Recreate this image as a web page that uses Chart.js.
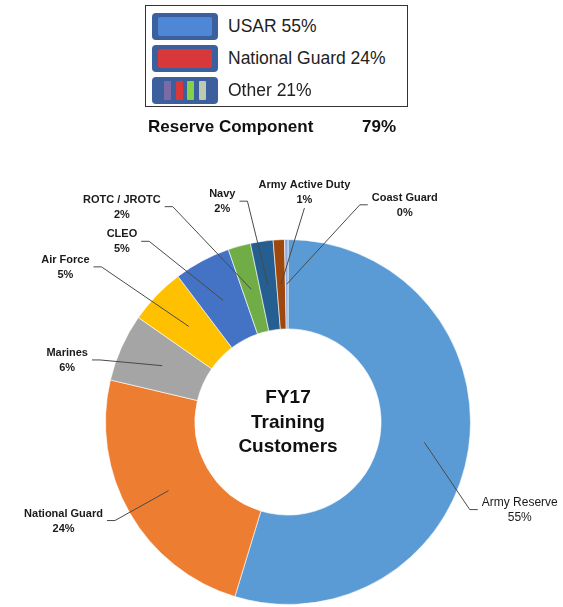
<!DOCTYPE html>
<html>
<head>
<meta charset="utf-8">
<script src="https://cdn.jsdelivr.net/npm/chart.js@4.4.1/dist/chart.umd.min.js"></script>
<style>
    body { margin: 0; background: #fff; font-family: "Liberation Sans", Arial, sans-serif; }
    #wrap { position: relative; width: 563px; height: 607px; overflow: hidden; }
    #grafico { position: absolute; left: 0; top: 0; }
    #legenda {
        position: absolute; left: 145px; top: 5px; width: 263px; height: 102px;
        border: 1.5px solid #333; box-sizing: border-box; background: #fff;
    }
    .item { position: absolute; left: 6px; height: 28px; width: 250px; }
    .swatch {
        position: absolute; left: 0; top: 0; width: 66px; height: 27px;
        background: #3c5f9e; border-radius: 4px; box-sizing: border-box; padding: 4px 6px;
    }
    .swatch .fill { width: 100%; height: 100%; border-radius: 2px; }
    .swatch .bars { display: flex; justify-content: space-around; height: 100%; padding: 0 4px; }
    .swatch .bars span { width: 7px; height: 100%; border-radius: 1px; }
    .item .txt { position: absolute; left: 76px; top: 3px; font-size: 17.5px; color: #222; white-space: nowrap; }
    #reserva {
        position: absolute; left: 148px; top: 117px; font-size: 17px; font-weight: bold; color: #111;
        white-space: nowrap;
    }
    #reserva span { position: absolute; left: 214px; }
</style>
</head>
<body>
<div id="wrap">
    <canvas id="grafico" width="563" height="607"></canvas>
    <div id="legenda"></div>
    <div id="reserva"></div>
</div>
<script>

// =============================
// DADOS
// =============================

const categorias = ["Army Reserve", "National Guard", "Marines", "Air Force", "CLEO",
    "ROTC / JROTC", "Navy", "Army Active Duty", "Coast Guard"];
const valores = [54.7, 24, 6, 5, 5, 2, 2, 1, 0.3];
const cores = ["#5B9BD5", "#ED7D31", "#A5A5A5", "#FFC000", "#4472C4",
    "#70AD47", "#255E91", "#9E480E", "#8FAADC"];

const legendaNomes = ["USAR", "National Guard", "Other"];
const legendaValores = [55, 24, 21];
const reservaTotal = 79;

const tituloCentro = ["FY17", "Training", "Customers"];

// posicao dos rotulos (fração do raio externo, relativo ao centro)
const rotuloPos = [
    [1.27, 0.48], [-1.23, 0.54], [-1.21, -0.34], [-1.22, -0.85], [-0.91, -0.99],
    [-0.91, -1.18], [-0.36, -1.21], [0.09, -1.26], [0.64, -1.19]
];

// =============================
// LEGENDA (HTML)
// =============================

function renderLegenda() {

    const box = document.getElementById("legenda");
    const tops = [7, 39, 71];

    legendaNomes.forEach((nome, i) => {

        const item = document.createElement("div");
        item.className = "item";
        item.style.top = tops[i] + "px";

        let sw;
        if (i === 0) sw = '<div class="swatch"><div class="fill" style="background:#4d87d6"></div></div>';
        else if (i === 1) sw = '<div class="swatch"><div class="fill" style="background:#d8383a"></div></div>';
        else sw = '<div class="swatch"><div class="bars">' +
            '<span style="background:#7a6aa6"></span><span style="background:#d8383a"></span>' +
            '<span style="background:#83d24a"></span><span style="background:#bccab0"></span></div></div>';

        item.innerHTML = sw + `<div class="txt">${nome} ${legendaValores[i]}%</div>`;
        box.appendChild(item);

    });

    document.getElementById("reserva").innerHTML =
        `Reserve Component <span>${reservaTotal}%</span>`;

}

// =============================
// PLUGIN ROTULOS + CENTRO
// =============================

const rotulosPlugin = {
    id: "rotulos",
    afterDatasetsDraw(chart) {

        const ctx = chart.ctx;
        const meta = chart.getDatasetMeta(0);

        ctx.save();

        meta.data.forEach((arc, i) => {

            const p = arc.getProps(["x", "y", "startAngle", "endAngle", "innerRadius", "outerRadius"], true);
            const mid = (p.startAngle + p.endAngle) / 2;
            const r = (p.innerRadius + p.outerRadius) / 2;
            const px = p.x + Math.cos(mid) * r;
            const py = p.y + Math.sin(mid) * r;

            const lx = p.x + rotuloPos[i][0] * p.outerRadius;
            const ly = p.y + rotuloPos[i][1] * p.outerRadius;

            const nome = categorias[i];
            const pct = Math.round(valores[i]) + "%";

            ctx.font = i === 0 ? "12px 'Liberation Sans', Arial" : "bold 11px 'Liberation Sans', Arial";
            const w = Math.max(ctx.measureText(nome).width, ctx.measureText(pct).width);

            ctx.fillStyle = "#1a1a1a";
            ctx.textAlign = "center";
            ctx.textBaseline = "middle";
            ctx.fillText(nome, lx, ly - 7);
            ctx.fillText(pct, lx, ly + 8);

            // linha guia
            ctx.strokeStyle = "#4a4a4a";
            ctx.lineWidth = 1;
            ctx.beginPath();
            if (Math.abs(lx - px) < w / 2) {
                ctx.moveTo(lx, ly + 16);
                ctx.lineTo(px, py);
            } else if (lx < px) {
                const sx = lx + w / 2 + 4;
                ctx.moveTo(sx, ly);
                ctx.lineTo(sx + 8, ly);
                ctx.lineTo(px, py);
            } else {
                const sx = lx - w / 2 - 4;
                ctx.moveTo(sx, ly);
                ctx.lineTo(sx - 8, ly);
                ctx.lineTo(px, py);
            }
            ctx.stroke();

        });

        // texto central
        const c = meta.data[0];
        ctx.font = "bold 19px 'Liberation Sans', Arial";
        ctx.fillStyle = "#111";
        ctx.textAlign = "center";
        ctx.textBaseline = "middle";
        tituloCentro.forEach((linha, i) => {
            ctx.fillText(linha, c.x, c.y - 24 + i * 24.5);
        });

        ctx.restore();

    }
};

// =============================
// GRAFICO
// =============================

function renderGrafico() {

    const ctx = document.getElementById("grafico");

    new Chart(ctx, {
        type: "doughnut",
        data: {
            labels: categorias,
            datasets: [{
                data: valores,
                backgroundColor: cores,
                borderColor: "rgba(255,255,255,0.6)",
                borderWidth: 1
            }]
        },
        options: {
            responsive: false,
            animation: false,
            cutout: "51%",
            layout: { padding: { top: 239, bottom: 2, left: 13, right: 0 } },
            plugins: {
                legend: { display: false },
                tooltip: { enabled: false }
            }
        },
        plugins: [rotulosPlugin]
    });

}

renderLegenda();
renderGrafico();

</script>
</body>
</html>
